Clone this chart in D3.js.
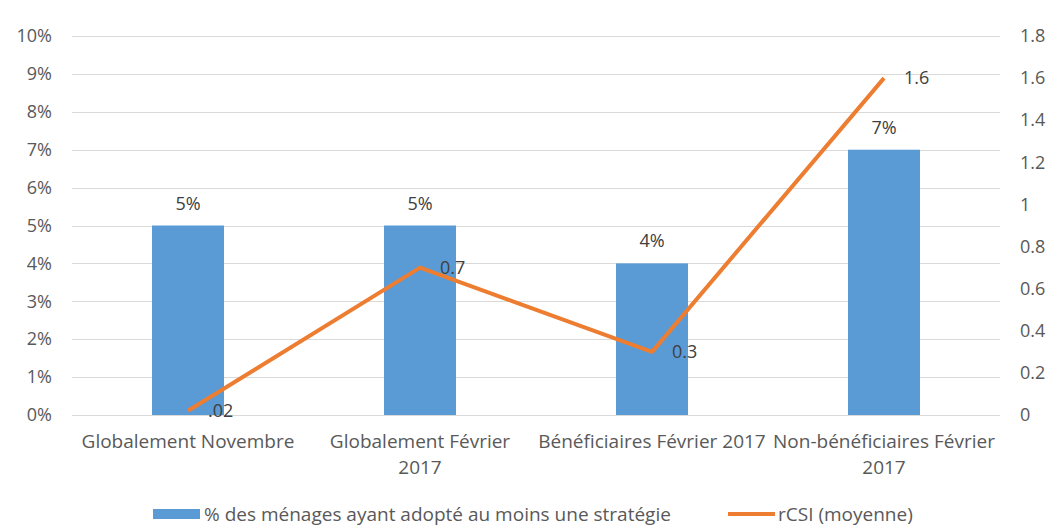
<!DOCTYPE html>
<html>
<head>
<meta charset="utf-8">
<title>Stratégies et rCSI</title>
<script src="https://cdn.jsdelivr.net/npm/d3@7"></script>
<style>
    body { margin: 0; background: #fff; }
    svg text { font-family: "Open Sans", sans-serif; }
</style>
</head>
<body>
<svg id="chart" width="1050" height="529"></svg>

<script>
    // categories (line breaks as in the original axis)
    const categories = [
        "Globalement Novembre",
        "Globalement Février\n2017",
        "Bénéficiaires Février 2017",
        "Non-bénéficiaires Février\n2017"
    ];
    // % des ménages ayant adopté au moins une stratégie
    const pctMenages = [0.05, 0.05, 0.04, 0.07];
    // rCSI (moyenne)
    const rcsi = [0.02, 0.7, 0.3, 1.6];
    const rcsiLabels = [".02", "0.7", "0.3", "1.6"];
    const pctLabels = ["5%", "5%", "4%", "7%"];

    const leftTicks = d3.range(0, 0.1001, 0.01);
    const rightTicks = [0, 0.2, 0.4, 0.6, 0.8, 1, 1.2, 1.4, 1.6, 1.8];

    const legendNames = ["% des ménages ayant adopté au moins une stratégie", "rCSI (moyenne)"];

    const svg = d3.select('#chart');
    const plotLeft = 72, plotRight = 1000, plotTop = 36, plotBottom = 415;
    const textColor = '#595959';

    const x = d3.scaleBand().domain(categories).range([plotLeft, plotRight]);
    const yL = d3.scaleLinear().domain([0, 0.1]).range([plotBottom, plotTop]);
    const yR = d3.scaleLinear().domain([0, 1.8]).range([plotBottom, plotTop]);

    /// gridlines
    svg.append('g')
        .selectAll('line')
        .data(leftTicks)
        .join('line')
        .attr('x1', plotLeft).attr('x2', plotRight)
        .attr('y1', d => Math.round(yL(d)) + 0.5)
        .attr('y2', d => Math.round(yL(d)) + 0.5)
        .attr('stroke', '#d9d9d9')
        .attr('stroke-width', 1);

    /// left axis
    const axL = svg.append('g')
        .attr('transform', `translate(${plotLeft},0)`)
        .call(d3.axisLeft(yL).tickValues(leftTicks).tickFormat(d3.format('.0%')).tickSize(0).tickPadding(20));
    axL.select('.domain').remove();
    axL.selectAll('text').attr('fill', textColor).style('font-size', '18px');

    /// right axis
    const axR = svg.append('g')
        .attr('transform', `translate(${plotRight},0)`)
        .call(d3.axisRight(yR).tickValues(rightTicks).tickFormat(d3.format('~g')).tickSize(0).tickPadding(20));
    axR.select('.domain').remove();
    axR.selectAll('text').attr('fill', textColor).style('font-size', '18px');

    /// bars
    const barW = 72;
    const cx = i => x(categories[i]) + x.bandwidth() / 2;
    svg.append('g')
        .selectAll('rect')
        .data(pctMenages)
        .join('rect')
        .attr('x', (d, i) => cx(i) - barW / 2)
        .attr('width', barW)
        .attr('y', d => yL(d))
        .attr('height', d => plotBottom - yL(d))
        .attr('fill', '#5b9bd5');

    /// line
    svg.append('path')
        .datum(rcsi)
        .attr('fill', 'none')
        .attr('stroke', '#ed7d31')
        .attr('stroke-width', 4)
        .attr('stroke-linejoin', 'round')
        .attr('d', d3.line().x((d, i) => cx(i)).y(d => yR(d)));

    /// bar labels
    svg.append('g')
        .selectAll('text')
        .data(pctMenages)
        .join('text')
        .attr('x', (d, i) => cx(i))
        .attr('y', d => yL(d) - 16)
        .attr('text-anchor', 'middle')
        .attr('fill', '#404040')
        .style('font-size', '18px')
        .text((d, i) => pctLabels[i]);

    /// line labels
    svg.append('g')
        .selectAll('text')
        .data(rcsi)
        .join('text')
        .attr('x', (d, i) => cx(i) + 20)
        .attr('y', d => yR(d))
        .attr('dy', '0.35em')
        .attr('fill', '#404040')
        .style('font-size', '18px')
        .text((d, i) => rcsiLabels[i]);

    /// category labels
    const xl = svg.append('g');
    categories.forEach((c, i) => {
        const t = xl.append('text')
            .attr('x', cx(i))
            .attr('y', 448)
            .attr('text-anchor', 'middle')
            .attr('fill', textColor)
            .style('font-size', '19px');
        c.split('\n').forEach((line, j) => {
            t.append('tspan').attr('x', cx(i)).attr('dy', j === 0 ? 0 : 26).text(line);
        });
    });

    /// legend
    const legendY = 514;
    const lg = svg.append('g').style('font-size', '19px');
    lg.append('rect').attr('x', 153).attr('y', legendY - 5).attr('width', 47).attr('height', 10).attr('fill', '#5b9bd5');
    lg.append('text').attr('x', 204).attr('y', legendY).attr('dy', '0.35em').attr('fill', textColor).text(legendNames[0]);
    lg.append('line').attr('x1', 728).attr('x2', 775).attr('y1', legendY).attr('y2', legendY)
        .attr('stroke', '#ed7d31').attr('stroke-width', 4);
    lg.append('text').attr('x', 778).attr('y', legendY).attr('dy', '0.35em').attr('fill', textColor).text(legendNames[1]);
</script>
</body>
</html>
